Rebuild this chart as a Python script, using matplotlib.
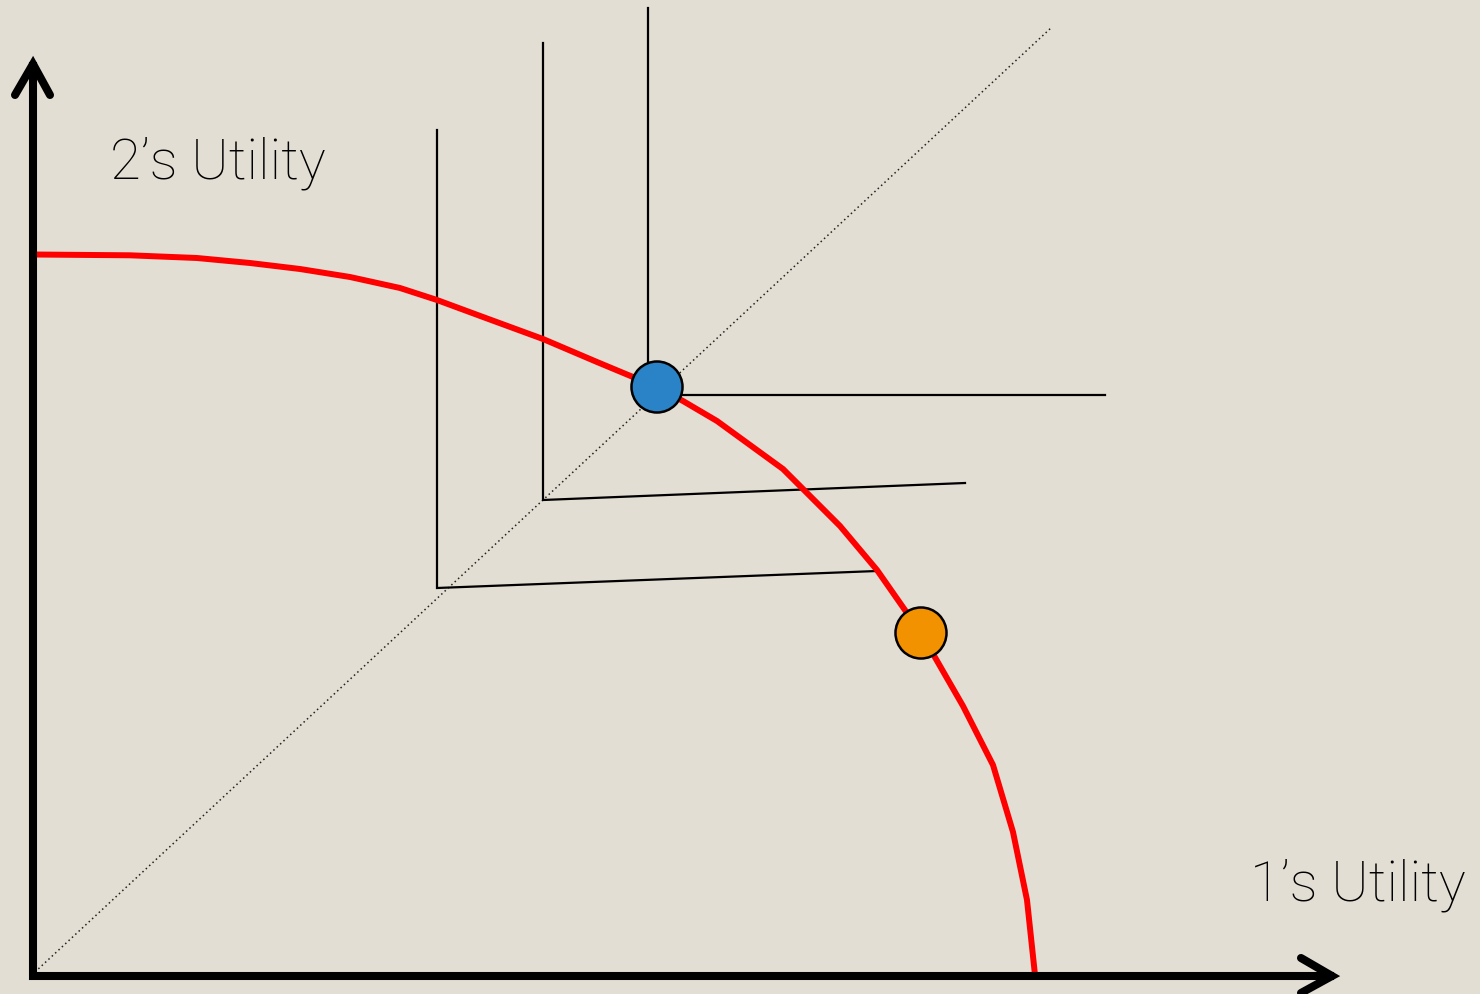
import numpy as np
import matplotlib.pyplot as plt

plt.rcParams['font.family'] = ['Roboto', 'DejaVu Sans']

# utility possibility frontier (screen units, y grows downward)
frontier_x = [33, 130, 197, 250, 300, 350, 400, 437, 483, 543, 597, 657, 683, 717,
              750, 783, 803, 840, 877, 921, 963, 993, 1013, 1027, 1035]
frontier_y = [254.5, 255.3, 258, 263, 269, 277, 288, 300, 317, 339, 362, 387, 401, 421,
              445, 469, 489, 526, 570, 633, 706, 765, 832, 900, 975]

# 45 degree line
diag_x = [35, 1052]
diag_y = [972, 27]

# L-shaped indifference curves: top of vertical, corner, end of horizontal
L_x = [[648, 648, 1105], [543, 543, 965], [437, 437, 877]]
L_y = [[8, 395, 395], [43, 500, 483], [130, 588, 571]]

# equal-split point and alternative point on the frontier
pts_x = [657, 921]
pts_y = [387, 633]
pts_col = ['#2a83c6', '#f39200']

fig = plt.figure(figsize=(14.8, 9.94), dpi=100)
fig.patch.set_facecolor('#e3ded3')
ax = fig.add_axes([0, 0, 1, 1])
ax.set_facecolor('#e3ded3')
ax.set_xlim(0, 1480)
ax.set_ylim(994, 0)
ax.axis('off')

ax.plot(diag_x, diag_y, ':', color='#222222', lw=1.1, dashes=(1, 2))

for xs, ys in zip(L_x, L_y):
    ax.plot(xs, ys, color='black', lw=1.6, solid_joinstyle='miter')

ax.plot(frontier_x, frontier_y, color='#ff0000', lw=4.3, solid_capstyle='butt',
        solid_joinstyle='round')

# axes with open arrowheads
ax.plot([33, 33, 1330], [66, 976, 976], color='black', lw=5.8, solid_joinstyle='miter')
ax.plot([15, 33, 50], [95, 64, 95], color='black', lw=5.8, solid_capstyle='round', solid_joinstyle='miter')
ax.plot([1301, 1332, 1301], [958, 976, 993], color='black', lw=5.8, solid_capstyle='round', solid_joinstyle='miter')

ax.scatter(pts_x, pts_y, s=1350, c=pts_col, edgecolors='black', linewidths=1.8, zorder=5)

ax.text(110, 178, '2\u2019s Utility', fontsize=40.5, fontweight='light', ha='left', va='baseline', color='black')
ax.text(1250, 900, '1\u2019s Utility', fontsize=40.5, fontweight='light', ha='left', va='baseline', color='black')

fig.savefig('out.png', dpi=100, facecolor=fig.get_facecolor())
